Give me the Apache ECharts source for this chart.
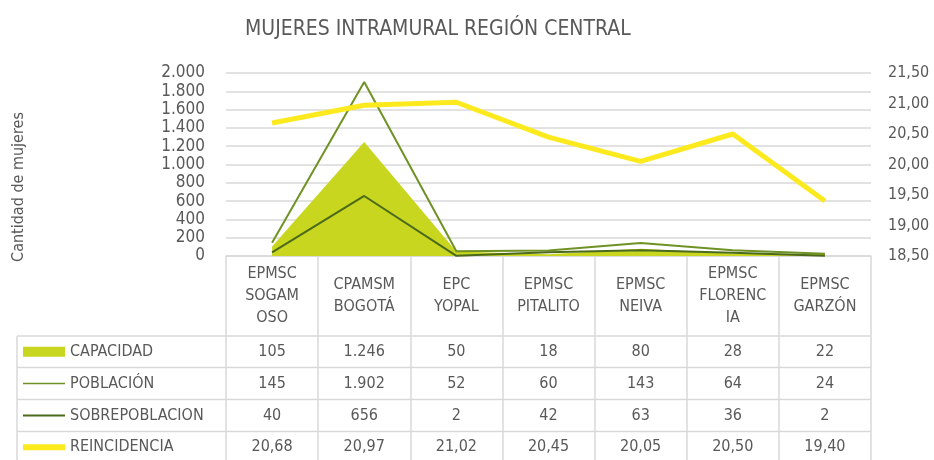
<!DOCTYPE html>
<html lang="es">
  <head>
    <meta charset="UTF-8" />
    <title>Mujeres intramural región central</title>
    <script src="https://cdn.jsdelivr.net/npm/echarts@6/dist/echarts.min.js"></script>
    <style>
      body { margin: 0; background: #fff; }
    </style>
  </head>
  <body>
    <div id="main" style="width: 934px; height: 460px"></div>
    <script type="text/javascript">
      const categories = [
        "EPMSC\nSOGAM\nOSO",
        "CPAMSM\nBOGOTÁ",
        "EPC\nYOPAL",
        "EPMSC\nPITALITO",
        "EPMSC\nNEIVA",
        "EPMSC\nFLORENC\nIA",
        "EPMSC\nGARZÓN",
      ];
      const capacidad = [105, 1246, 50, 18, 80, 28, 22];
      const poblacion = [145, 1902, 52, 60, 143, 64, 24];
      const sobrepoblacion = [40, 656, 2, 42, 63, 36, 2];
      const reincidencia = [20.68, 20.97, 21.02, 20.45, 20.05, 20.5, 19.4];

      const FONT = '"Liberation Sans Narrow", "DejaVu Sans Condensed", sans-serif';
      const TXT = "#595959";
      const LINE = "#d9d9d9";
      const cAREA = "#c8d61f";
      const cPOB = "#6f9224";
      const cSOB = "#4b6a1c";
      const cREI = "#fcea1e";

      const fmtInt = (v) => String(v).replace(/\B(?=(\d{3})+(?!\d))/g, ".");
      const fmtDec = (v) => v.toFixed(2).replace(".", ",");

      let myChart = echarts.init(document.getElementById("main"));

      let options = {
        animation: false,
        textStyle: { fontFamily: FONT },
        title: {
          text: "MUJERES INTRAMURAL REGIÓN CENTRAL",
          left: 240,
          top: 14,
          textStyle: { fontFamily: FONT, fontSize: 21, fontWeight: "normal", color: TXT },
        },
        grid: { left: 226, right: 63, top: 73, bottom: 204, outerBoundsMode: "none" },
        xAxis: {
          type: "category",
          data: categories,
          boundaryGap: true,
          axisLine: { lineStyle: { color: LINE, width: 1.5 } },
          axisTick: { show: true, interval: 0, length: 204, lineStyle: { color: LINE, width: 1.5 } },
          axisLabel: {
            interval: 0,
            margin: 40,
            verticalAlign: "middle",
            lineHeight: 22,
            fontSize: 16,
            color: TXT,
            fontFamily: FONT,
          },
        },
        yAxis: [
          {
            type: "value",
            min: 0,
            max: 2000,
            interval: 200,
            axisLine: { show: false },
            axisTick: { show: false },
            splitLine: { lineStyle: { color: LINE, width: 1.5 } },
            axisLabel: {
              formatter: fmtInt,
              fontSize: 17,
              color: TXT,
              margin: 21,
              fontFamily: FONT,
              showMinLabel: true,
              showMaxLabel: true,
              hideOverlap: false,
            },
          },
          {
            type: "value",
            min: 18.5,
            max: 21.5,
            interval: 0.5,
            axisLine: { show: false },
            axisTick: { show: false },
            splitLine: { show: false },
            axisLabel: {
              formatter: fmtDec,
              fontSize: 16,
              color: TXT,
              margin: 17,
              fontFamily: FONT,
              showMinLabel: true,
              showMaxLabel: true,
              hideOverlap: false,
            },
          },
        ],
        series: [
          {
            name: "CAPACIDAD",
            type: "line",
            data: capacidad,
            showSymbol: false,
            lineStyle: { width: 0 },
            areaStyle: { color: cAREA, opacity: 1 },
            z: 1,
          },
          {
            name: "POBLACIÓN",
            type: "line",
            data: poblacion,
            showSymbol: false,
            lineStyle: { color: cPOB, width: 2 },
            z: 2,
          },
          {
            name: "SOBREPOBLACION",
            type: "line",
            data: sobrepoblacion,
            showSymbol: false,
            lineStyle: { color: cSOB, width: 2 },
            z: 3,
          },
          {
            name: "REINCIDENCIA",
            type: "line",
            yAxisIndex: 1,
            data: reincidencia,
            showSymbol: false,
            lineStyle: { color: cREI, width: 5 },
            z: 4,
          },
        ],
      };

      myChart.setOption(options);

      // data table under the plot
      const rows = [
        { name: "CAPACIDAD", values: capacidad.map(fmtInt), key: "box", color: cAREA },
        { name: "POBLACIÓN", values: poblacion.map(fmtInt), key: 1.5, color: cPOB },
        { name: "SOBREPOBLACION", values: sobrepoblacion.map(fmtInt), key: 2, color: cSOB },
        { name: "REINCIDENCIA", values: reincidencia.map(fmtDec), key: 6, color: cREI },
      ];
      const rowTop = [336, 367.5, 399.5, 431.5, 463];
      const tableLeft = 17;
      const tableRight = 871;
      const g = [];

      rowTop.slice(0, 4).forEach((y) => {
        g.push({
          type: "line",
          shape: { x1: tableLeft, y1: y, x2: tableRight, y2: y },
          style: { stroke: LINE, lineWidth: 1.5 },
        });
      });
      g.push({
        type: "line",
        shape: { x1: tableLeft, y1: 336, x2: tableLeft, y2: 460 },
        style: { stroke: LINE, lineWidth: 1.5 },
      });

      rows.forEach((r, ri) => {
        const cy = (rowTop[ri] + rowTop[ri + 1]) / 2;
        if (r.key === "box") {
          g.push({ type: "rect", shape: { x: 23, y: cy - 5, width: 42, height: 10 }, style: { fill: r.color } });
        } else {
          g.push({
            type: "line",
            shape: { x1: 23, y1: cy, x2: 65, y2: cy },
            style: { stroke: r.color, lineWidth: r.key },
          });
        }
        g.push({
          type: "text",
          x: 70,
          y: cy,
          style: { text: r.name, font: "16px " + FONT, fill: TXT, verticalAlign: "middle" },
        });
        r.values.forEach((v, i) => {
          const cx = myChart.convertToPixel({ xAxisIndex: 0 }, i);
          g.push({
            type: "text",
            x: cx,
            y: cy,
            style: { text: v, font: "16px " + FONT, fill: TXT, align: "center", verticalAlign: "middle" },
          });
        });
      });

      g.push({
        type: "text",
        x: 19,
        y: 187,
        rotation: Math.PI / 2,
        style: {
          text: "Cantidad de mujeres",
          font: "16px " + FONT,
          fill: TXT,
          align: "center",
          verticalAlign: "middle",
        },
      });

      myChart.setOption({ graphic: g });
    </script>
  </body>
</html>
